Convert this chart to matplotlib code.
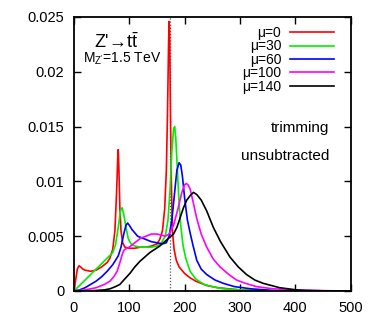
import numpy as np
import matplotlib
matplotlib.use("Agg")
import matplotlib.pyplot as plt

plt.rcParams.update({
    "font.family": ["Liberation Sans", "DejaVu Sans"],
    "font.size": 10,
    "mathtext.fontset": "custom",
    "mathtext.rm": "Liberation Sans",
    "mathtext.it": "Liberation Sans:italic",
})

# ── data (top-mass distribution, trimming, unsubtracted) ─────────
x_mu0 = [0, 3, 6, 9, 12, 16, 20, 30, 40, 50, 60, 65, 70, 74, 77, 79, 80, 81, 83, 85,
         88, 92, 100, 110, 120, 130, 140, 150, 155, 160, 164, 167, 169, 171, 172, 173,
         174, 176, 178, 181, 185, 190, 200, 210, 220, 240, 260, 280, 300, 350, 400, 500]
y_mu0 = [0, 0.0010, 0.0020, 0.0023, 0.0022, 0.0020, 0.0019, 0.0018, 0.0019, 0.0022,
         0.0026, 0.0030, 0.0038, 0.0055, 0.0090, 0.0120, 0.0129, 0.0115, 0.0075, 0.0055,
         0.0044, 0.0040, 0.0039, 0.0039, 0.0040, 0.0040, 0.0041, 0.0043, 0.0047, 0.0055,
         0.0075, 0.0110, 0.0160, 0.0225, 0.0246, 0.0238, 0.0180, 0.0100, 0.0055, 0.0038,
         0.0028, 0.0022, 0.0016, 0.0012, 0.0009, 0.0005, 0.0003, 0.0002, 0.0001, 0.00003,
         0, 0]

x_mu30 = [0, 10, 20, 30, 40, 50, 60, 70, 75, 80, 84, 87, 90, 94, 98, 103, 110, 120, 130,
          140, 150, 158, 165, 170, 174, 177, 180, 182, 184, 187, 190, 193, 197, 202, 210,
          220, 235, 250, 270, 300, 350, 400, 500]
y_mu30 = [0, 0.0005, 0.0010, 0.0015, 0.0020, 0.0025, 0.0030, 0.0035, 0.0042, 0.0058,
          0.0073, 0.0076, 0.0070, 0.0058, 0.0048, 0.0043, 0.0041, 0.0040, 0.0040, 0.0040,
          0.0041, 0.0044, 0.0050, 0.0065, 0.0095, 0.0128, 0.0148, 0.0150, 0.0140, 0.0110,
          0.0080, 0.0060, 0.0042, 0.0030, 0.0018, 0.0011, 0.0006, 0.0004, 0.0002, 0.0001,
          0.00003, 0, 0]

x_mu60 = [0, 10, 20, 30, 40, 50, 60, 70, 80, 85, 90, 94, 97, 100, 105, 110, 115, 120, 130,
          140, 150, 160, 167, 172, 177, 182, 186, 190, 193, 196, 200, 205, 210, 215, 222,
          230, 240, 255, 270, 290, 320, 360, 400, 500]
y_mu60 = [0, 0.0001, 0.0003, 0.0006, 0.0009, 0.0013, 0.0018, 0.0024, 0.0032, 0.0040,
          0.0052, 0.0060, 0.0062, 0.0060, 0.0056, 0.0053, 0.0050, 0.0049, 0.0047, 0.0045,
          0.0044, 0.0043, 0.0044, 0.0050, 0.0065, 0.0090, 0.0110, 0.0117, 0.0115, 0.0105,
          0.0085, 0.0065, 0.0053, 0.0042, 0.0028, 0.0020, 0.0015, 0.0010, 0.0007, 0.0004,
          0.0002, 0.00005, 0, 0]

x_mu100 = [0, 20, 40, 55, 65, 72, 78, 83, 87, 90, 95, 100, 110, 120, 130, 140, 150, 158,
           165, 172, 180, 188, 195, 200, 203, 206, 210, 216, 222, 230, 240, 252, 264, 280,
           294, 310, 330, 360, 400, 450, 500]
y_mu100 = [0, 0.0001, 0.0003, 0.0006, 0.0009, 0.0013, 0.0018, 0.0026, 0.0033, 0.0037,
           0.0039, 0.0040, 0.0044, 0.0048, 0.0050, 0.0052, 0.0052, 0.0051, 0.0050, 0.0052,
           0.0060, 0.0075, 0.0090, 0.0097, 0.0098, 0.0097, 0.0093, 0.0080, 0.0066, 0.0052,
           0.0040, 0.0029, 0.0022, 0.0015, 0.0010, 0.0007, 0.0004, 0.0002, 0.0001, 0.00003, 0]

x_mu140 = [0, 20, 40, 55, 65, 75, 83, 90, 101, 110, 119, 128, 137, 146, 155, 164, 173, 180,
           186, 192, 198, 204, 210, 216, 222, 230, 240, 252, 265, 282, 297, 312, 327, 342,
           357, 372, 387, 402, 420, 450, 500]
y_mu140 = [0, 0, 0.00005, 0.0001, 0.0002, 0.0004, 0.0006, 0.0010, 0.0016, 0.0022, 0.0027,
           0.0031, 0.0035, 0.0038, 0.0041, 0.0045, 0.0049, 0.0052, 0.0058, 0.0067, 0.0076,
           0.0083, 0.0087, 0.0090, 0.0088, 0.0083, 0.0073, 0.0058, 0.0045, 0.0031, 0.0022,
           0.0015, 0.0010, 0.0007, 0.0005, 0.0003, 0.0002, 0.0001, 0.00005, 0.00002, 0]

M_TOP = 173
labels = ["μ=0", "μ=30", "μ=60", "μ=100", "μ=140"]
colors = ["#ff0000", "#00ee00", "#0000ff", "#ff00ff", "#000000"]
series = [(x_mu0, y_mu0), (x_mu30, y_mu30), (x_mu60, y_mu60),
          (x_mu100, y_mu100), (x_mu140, y_mu140)]

fig = plt.figure(figsize=(3.76, 3.19), dpi=100)
ax = fig.add_axes([74 / 376, 28 / 319, 276.5 / 376, 274 / 319])

ax.axvline(M_TOP, color="#555555", ls=(0, (1, 1.5)), lw=0.9)
handles = []
for (xs, ys), col, lab in zip(series, colors, labels):
    h, = ax.plot(xs, ys, color=col, lw=1.2, label=lab)
    handles.append(h)

ax.set_xlim(0, 500)
ax.set_ylim(0, 0.025)
ax.set_xticks([0, 100, 200, 300, 400, 500])
ax.set_yticks([0, 0.005, 0.01, 0.015, 0.02, 0.025])
ax.set_yticklabels(["0", "0.005", "0.01", "0.015", "0.02", "0.025"])
ax.tick_params(direction="in", top=True, right=True, length=5, width=1,
               labelsize=10.5, pad=7)
for sp in ax.spines.values():
    sp.set_linewidth(1.3)

leg = ax.legend(handles=handles, loc="upper right",
                bbox_to_anchor=(334 / 376, 1 - 26 / 319),
                bbox_transform=fig.transFigure, frameon=False,
                markerfirst=False, handlelength=3.2, handletextpad=0.6,
                labelspacing=-0.04, borderpad=0, borderaxespad=0, fontsize=10)

fig.text(94 / 376, 1 - 48 / 319, "Z'→t$\\bar{\\mathrm{t}}$",
         fontsize=13, ha="left", va="baseline")
fig.text(83 / 376, 1 - 63 / 319, r"M$_{\mathrm{Z'}}$=1.5 TeV",
         fontsize=10, ha="left", va="baseline")
fig.text(329 / 376, 1 - 132 / 319, "trimming", fontsize=11, ha="right", va="baseline")
fig.text(329 / 376, 1 - 160 / 319, "unsubtracted", fontsize=11, ha="right", va="baseline")

fig.savefig("out.png", dpi=100)
